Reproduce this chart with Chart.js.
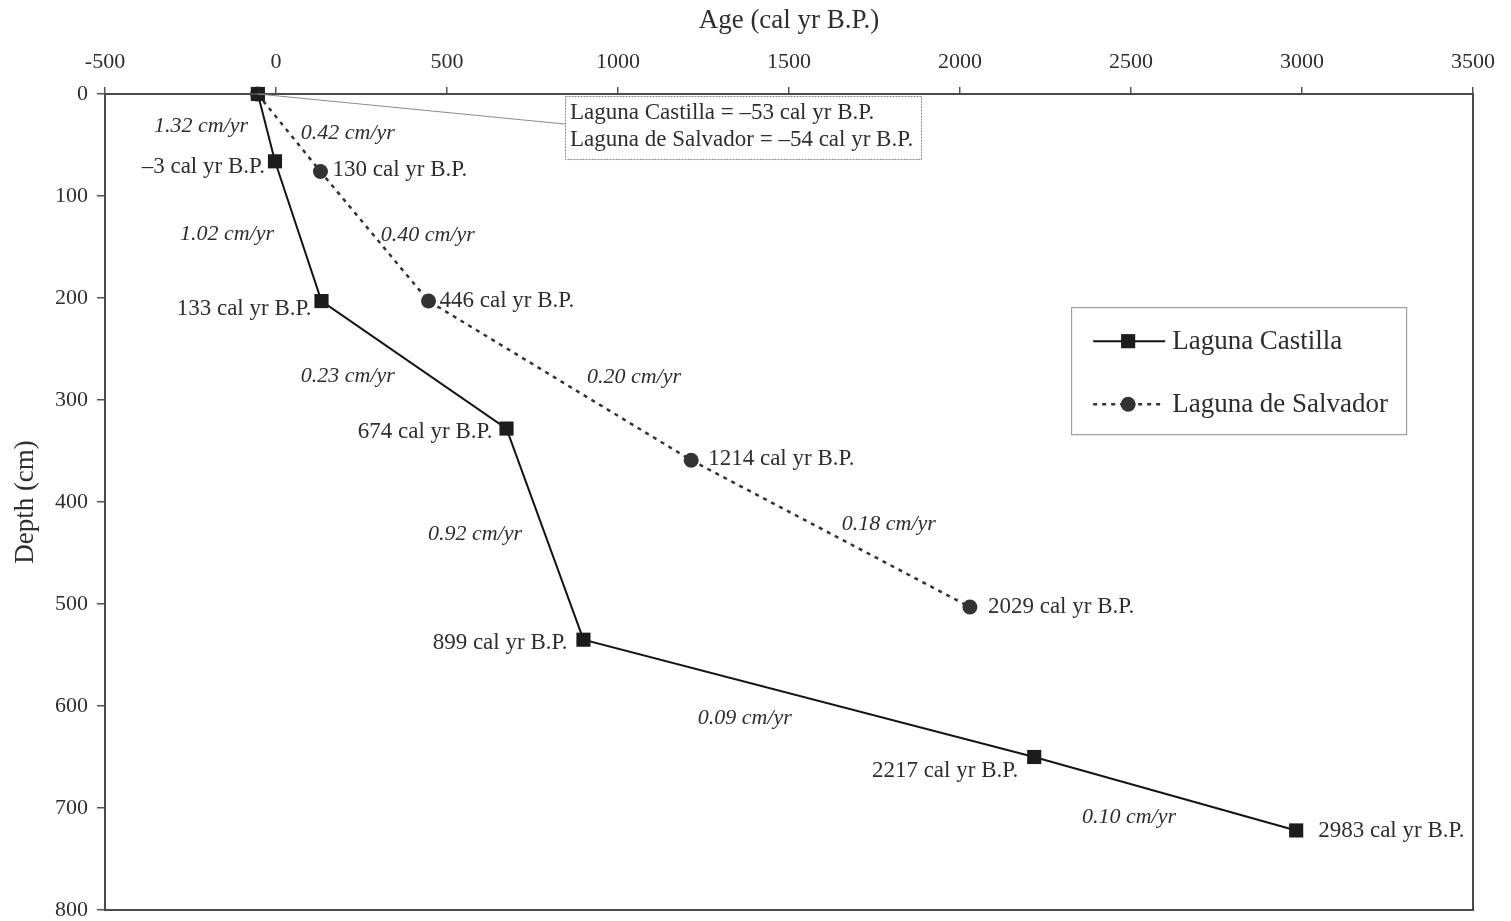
<!DOCTYPE html>
<html>
<head>
<meta charset="utf-8">
<script src="https://cdn.jsdelivr.net/npm/chart.js@4.4.1/dist/chart.umd.min.js"></script>
<style>
  html, body { margin: 0; padding: 0; background: #fff; }
  #wrap { width: 1511px; height: 921px; }
</style>
</head>
<body>
<div id="wrap"><canvas id="chart"></canvas></div>
<script>
// age-depth model
const castillaAge = [-53, -3, 133, 674, 899, 2217, 2983];
const castillaDepth = [0, 66, 203, 328, 535, 650, 722];
const castillaText = ['', '\u20133 cal yr B.P.', '133 cal yr B.P.', '674 cal yr B.P.', '899 cal yr B.P.', '2217 cal yr B.P.', '2983 cal yr B.P.'];

const salvadorAge = [-54, 130, 446, 1214, 2029];
const salvadorDepth = [0, 76, 203, 359, 503];
const salvadorText = ['', '130 cal yr B.P.', '446 cal yr B.P.', '1214 cal yr B.P.', '2029 cal yr B.P.'];

// sedimentation rates and where they sit (age, depth)
const rateText = ['1.32 cm/yr', '0.42 cm/yr', '1.02 cm/yr', '0.40 cm/yr', '0.23 cm/yr', '0.20 cm/yr', '0.92 cm/yr', '0.18 cm/yr', '0.09 cm/yr', '0.10 cm/yr'];
const rateAge = [-219, 210, -143, 444, 210, 1047, 582, 1792, 1371, 2494];
const rateDepth = [32, 38, 137, 138, 277, 278, 432, 422, 612, 709];

const topNote = ['Laguna Castilla = \u201353 cal yr B.P.', 'Laguna de Salvador = \u201354 cal yr B.P.'];
const xTicks = [-500, 0, 500, 1000, 1500, 2000, 2500, 3000, 3500];
const yTicks = [0, 100, 200, 300, 400, 500, 600, 700, 800];

const SERIF = '"Liberation Serif", "Times New Roman", serif';
const TXT = '#2e2e2e';

// label offsets in px (side: -1 = left of point, 1 = right)
const castillaOff = [null, [-10, 6, -1], [-10, 8, -1], [-14, 3, -1], [-16, 3, -1], [-16, 14, -1], [22, 1, 1]];
const salvadorOff = [null, [12, -2, 1], [11, 0, 1], [17, -1, 1], [18, 0, 1]];

const toPts = (xs, ys) => xs.map((x, i) => ({ x: x, y: ys[i] }));

const extras = {
  id: 'extras',
  afterDraw(chart) {
    const c = chart.ctx, a = chart.chartArea;
    const sx = chart.scales.x, sy = chart.scales.y;
    c.save();

    // frame
    c.strokeStyle = '#4a4a4a'; c.lineWidth = 2;
    c.strokeRect(a.left, a.top, a.right - a.left, a.bottom - a.top);

    // point labels
    c.fillStyle = TXT; c.textBaseline = 'middle';
    c.font = '23px ' + SERIF;
    const lab = (ages, depths, texts, offs) => {
      texts.forEach((t, i) => {
        if (!t) return;
        const o = offs[i];
        c.textAlign = o[2] < 0 ? 'right' : 'left';
        c.fillText(t, sx.getPixelForValue(ages[i]) + o[0], sy.getPixelForValue(depths[i]) + o[1]);
      });
    };
    lab(castillaAge, castillaDepth, castillaText, castillaOff);
    lab(salvadorAge, salvadorDepth, salvadorText, salvadorOff);

    // rates
    c.font = 'italic 22px ' + SERIF; c.textAlign = 'center';
    rateText.forEach((t, i) => c.fillText(t, sx.getPixelForValue(rateAge[i]), sy.getPixelForValue(rateDepth[i])));

    // note box + leader line
    const bx = sx.getPixelForValue(845), by = sy.getPixelForValue(2);
    c.strokeStyle = '#8a8a8a'; c.lineWidth = 1;
    c.beginPath();
    c.moveTo(sx.getPixelForValue(castillaAge[0]), sy.getPixelForValue(castillaDepth[0]));
    c.lineTo(bx, by + 28);
    c.stroke();
    c.fillStyle = '#fff';
    c.fillRect(bx, by, 356, 63);
    c.setLineDash([2, 1]);
    c.strokeRect(bx + 0.5, by + 0.5, 356, 63);
    c.setLineDash([]);
    c.fillStyle = TXT; c.font = '23px ' + SERIF; c.textAlign = 'left';
    c.fillText(topNote[0], bx + 5, by + 17);
    c.fillText(topNote[1], bx + 5, by + 44);

    // legend
    const lx = sx.getPixelForValue(2325), ly = sy.getPixelForValue(209);
    c.fillStyle = '#fff'; c.fillRect(lx, ly, 335, 127);
    c.strokeStyle = '#8a8a8a'; c.lineWidth = 1;
    c.strokeRect(lx + 0.5, ly + 0.5, 335, 127);
    chart.data.datasets.forEach((ds, i) => {
      const yy = ly + 34 + i * 63;
      c.strokeStyle = ds.borderColor; c.lineWidth = ds.borderWidth;
      c.setLineDash(ds.borderDash || []);
      c.beginPath(); c.moveTo(lx + 22, yy); c.lineTo(lx + 94, yy); c.stroke();
      c.setLineDash([]);
      c.fillStyle = ds.backgroundColor;
      Chart.helpers.drawPoint(c, { pointStyle: ds.pointStyle, radius: ds.pointRadius, borderWidth: 0 }, lx + 57, yy);
      c.fillStyle = TXT; c.font = '27px ' + SERIF; c.textAlign = 'left';
      c.fillText(ds.label, lx + 101, yy + 1);
    });
    c.restore();
  }
};

new Chart(document.getElementById('chart'), {
  type: 'scatter',
  data: {
    datasets: [
      {
        label: 'Laguna Castilla',
        data: toPts(castillaAge, castillaDepth),
        showLine: true,
        borderColor: '#141414',
        borderWidth: 2,
        backgroundColor: '#1c1c1c',
        pointStyle: 'rect',
        pointRadius: 10,
        pointBorderWidth: 0,
        clip: false
      },
      {
        label: 'Laguna de Salvador',
        data: toPts(salvadorAge, salvadorDepth),
        showLine: true,
        borderColor: '#333',
        borderWidth: 2.5,
        borderDash: [4, 5],
        backgroundColor: '#333',
        pointStyle: 'circle',
        pointRadius: 7.5,
        pointBorderWidth: 0,
        clip: false
      }
    ]
  },
  options: {
    responsive: true,
    maintainAspectRatio: false,
    animation: false,
    layout: { padding: { top: 0, left: 0, right: 38, bottom: 11 } },
    plugins: { legend: { display: false }, tooltip: { enabled: false } },
    scales: {
      x: {
        type: 'linear', position: 'top', min: xTicks[0], max: xTicks[xTicks.length - 1],
        afterBuildTicks: s => { s.ticks = xTicks.map(v => ({ value: v })); },
        afterFit: s => { s.height = 94; s.paddingLeft = 0; s.paddingRight = 0; },
        ticks: { color: TXT, font: { family: SERIF, size: 22 }, padding: 12, callback: v => String(v) },
        grid: { drawOnChartArea: false, tickLength: 7, color: '#555', lineWidth: 1.5 },
        border: { display: false },
        title: { display: true, text: 'Age (cal yr B.P.)', color: TXT, font: { family: SERIF, size: 27 }, padding: { top: 5, bottom: 0 } }
      },
      y: {
        type: 'linear', reverse: true, min: yTicks[0], max: yTicks[yTicks.length - 1],
        afterBuildTicks: s => { s.ticks = yTicks.map(v => ({ value: v })); },
        afterFit: s => { s.width = 105; s.paddingTop = 0; s.paddingBottom = 0; },
        ticks: { color: TXT, font: { family: SERIF, size: 22 }, padding: 9, callback: v => String(v) },
        grid: { drawOnChartArea: false, tickLength: 8, color: '#555', lineWidth: 1.5 },
        border: { display: false },
        title: { display: true, text: 'Depth (cm)', color: TXT, font: { family: SERIF, size: 27 }, padding: { top: 10, bottom: 0 } }
      }
    }
  },
  plugins: [extras]
});
</script>
</body>
</html>
